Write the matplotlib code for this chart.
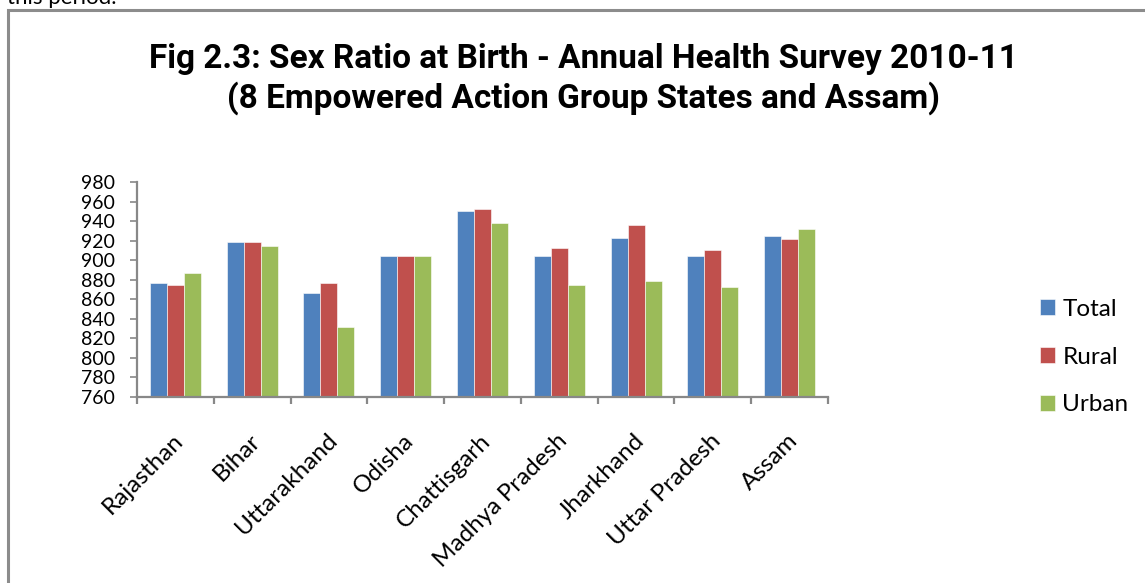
import matplotlib.pyplot as plt
from matplotlib.patches import Rectangle
from matplotlib.transforms import ScaledTranslation
import numpy as np

# dados
estados = ["Rajasthan", "Bihar", "Uttarakhand", "Odisha", "Chattisgarh",
           "Madhya Pradesh", "Jharkhand", "Uttar Pradesh", "Assam"]
total = [877, 919, 866, 904, 951, 904, 923, 904, 925]
rural = [875, 919, 877, 904, 953, 913, 936, 911, 922]
urbano = [887, 915, 832, 904, 938, 875, 879, 873, 932]
series = ["Total", "Rural", "Urban"]
cores = ["#4F81BD", "#C0504D", "#9BBB59"]
yticks = list(range(760, 981, 20))

plt.rcParams['font.family'] = ['Lato', 'DejaVu Sans']

fig = plt.figure(figsize=(11.45, 5.83), dpi=100)
W, H = 1145, 583

# moldura cinza e resto do texto da página
fig.patches.append(Rectangle((8 / W, -0.1), 1.2, (H - 10) / H + 0.1,
                             transform=fig.transFigure, fill=False,
                             edgecolor="#8c8c8c", lw=2.2))
fig.text(7 / W, 1 - 4 / H, "this period.", fontsize=16, va="baseline", ha="left")

# título
titulo = "Fig 2.3: Sex Ratio at Birth - Annual Health Survey 2010-11\n(8 Empowered Action Group States and Assam)"
fig.text(583 / W, 1 - 79 / H, titulo, ha="center", va="center", fontsize=24,
         fontweight="bold", linespacing=1.25,
         family=["Roboto", "DejaVu Sans"])

ax = fig.add_axes([137 / W, 186.3 / H, 691 / W, 214.4 / H])
x = np.arange(len(estados))
w = 0.221
handles = []
for i, (vals, cor, nome) in enumerate(zip([total, rural, urbano], cores, series)):
    b = ax.bar(x + (i - 1) * w, np.array(vals) - 760, width=w, bottom=760,
               color=cor, edgecolor="white", linewidth=0.4, label=nome)
    handles.append(b)

ax.set_xlim(-0.5, len(estados) - 0.5)
ax.set_ylim(760, 980)
ax.set_yticks(yticks)
ax.tick_params(axis="y", length=5, width=1.2, color="#888888", pad=11, labelsize=14)
ax.set_xticks(np.arange(-0.5, len(estados), 1))
ax.set_xticklabels([])
ax.tick_params(axis="x", which="major", length=5, width=1.6, color="#888888")
ax.set_xticks(x, minor=True)
ax.set_xticklabels(estados, minor=True, rotation=45, ha="right", va="top",
                   rotation_mode="anchor", fontsize=17.5)
ax.tick_params(axis="x", which="minor", length=0, pad=24)
off = ScaledTranslation(-3 / 100, 0, fig.dpi_scale_trans)
for lbl in ax.get_xticklabels(minor=True):
    lbl.set_transform(lbl.get_transform() + off)

for s in ["top", "right"]:
    ax.spines[s].set_visible(False)
for s in ["left", "bottom"]:
    ax.spines[s].set_color("#888888")
    ax.spines[s].set_linewidth(1.6)

fig.legend(handles=handles, labels=series, loc="center left",
           bbox_to_anchor=(1040 / W, 1 - 357 / H), frameon=False, fontsize=17.5,
           handlelength=0.62, handleheight=0.62, handletextpad=0.3,
           labelspacing=1.1, borderpad=0, borderaxespad=0)

fig.savefig("out.png", dpi=100)
